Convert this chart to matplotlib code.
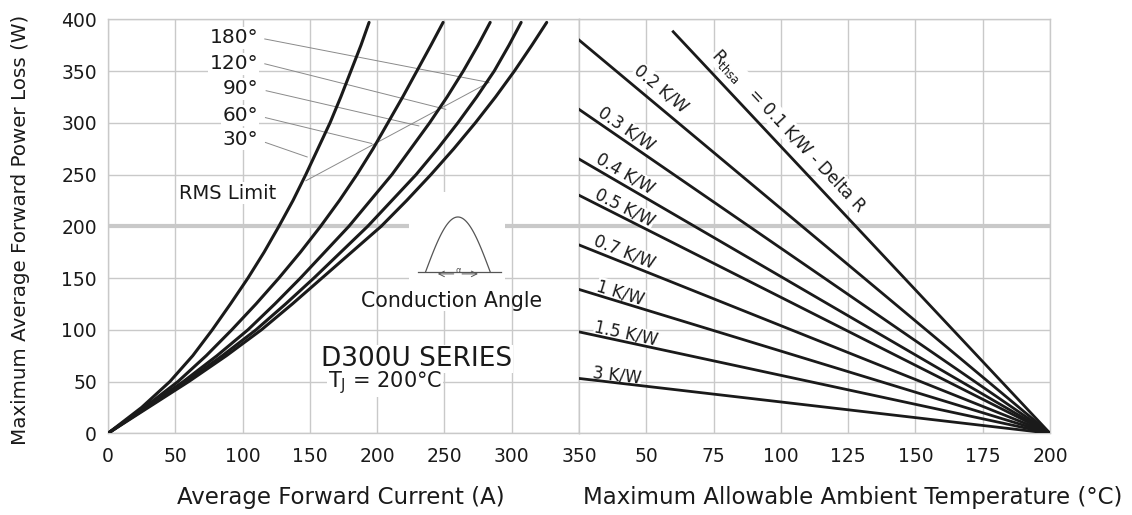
import numpy as np
import matplotlib
matplotlib.use('Agg')
import matplotlib.pyplot as plt
from matplotlib.patches import Rectangle

# ---- left panel: power loss vs. average forward current ----
angle_labels = ['30°', '60°', '90°', '120°', '180°']
power_w = [0, 25, 50, 75, 100, 125, 150, 175, 200, 225, 250, 275, 300,
           325, 350, 375, 397]
current_30 = [0, 25, 46, 63, 77.5, 91, 104, 116, 127, 137.5, 147, 156, 165,
              173, 180.5, 188, 194]
current_60 = [0, 27, 52, 73, 92, 110, 127, 143, 158, 172, 185, 197, 208,
              219, 229.5, 240, 249]
current_90 = [0, 28, 56, 81, 104, 124, 143, 161, 179, 195, 211, 225, 239,
              252, 264, 275, 284]
current_120 = [0, 29, 58, 85, 110, 132, 153, 173, 193, 211, 229, 245, 260,
               274, 287, 298, 307]
current_180 = [0, 30, 60, 88, 114, 137, 159, 181, 203, 222, 240, 257, 273,
               288, 302, 315, 326]

# leader lines from angle labels: (I0, P0, I1, P1)
leader_180 = [116.5, 381, 283, 339]
leader_120 = [116.5, 357, 251, 313]
leader_90 = [117.5, 331, 231, 297]
leader_60 = [117, 305, 196, 280]
leader_30 = [117, 281, 148, 267]
leader_rms = [147, 244, 283, 339]

# ---- right panel: power loss vs. ambient temperature ----
rth_labels = ['0.2 K/W', '0.3 K/W', '0.4 K/W', '0.5 K/W',
              '0.7 K/W', '1 K/W', '1.5 K/W', '3 K/W']
rth_start_temp = [25, 25, 25, 25, 25, 25, 25, 25]
rth_start_power = [380, 313, 265, 230, 182, 139, 98, 53]
rth_end_temp = 200
rth_label_temp = [55.5, 42.5, 42, 42, 42, 40.5, 42.5, 39]
rth_label_power = [333, 294, 251, 218, 175, 136, 96, 56]

delta_start = [60, 388]
delta_label = [103, 292]

left_ticks = [0, 50, 100, 150, 200, 250, 300, 350]
right_ticks = [50, 75, 100, 125, 150, 175, 200]
y_ticks = [0, 50, 100, 150, 200, 250, 300, 350, 400]

plt.rcParams['font.family'] = ['DejaVu Sans']
GRID = '#c9c9c9'
INK = '#1a1a1a'

fig = plt.figure(figsize=(11.32, 5.15), dpi=100)
ax1 = fig.add_axes([108 / 1132, 1 - 433.3 / 515, 471 / 1132, 414 / 515])
ax2 = fig.add_axes([579 / 1132, 1 - 433.3 / 515, 471 / 1132, 414 / 515])

for ax in (ax1, ax2):
    ax.set_ylim(0, 400)
    ax.set_yticks(y_ticks)
    ax.grid(True, color=GRID, lw=1.0, zorder=0)
    ax.axhline(200, color=GRID, lw=3, zorder=0.5)
    ax.tick_params(length=0, labelsize=13.5, colors=INK)
    for s in ax.spines.values():
        s.set_color(GRID)
        s.set_linewidth(1.0)
    ax.set_axisbelow(True)

ax1.set_xlim(0, 350)
ax1.set_xticks(left_ticks)
ax1.tick_params(axis='y', pad=8)
ax1.tick_params(axis='x', pad=10)
ax2.set_xlim(25, 200)
ax2.set_xticks(right_ticks)
ax2.tick_params(axis='x', pad=10)
ax2.tick_params(axis='y', labelleft=False)

# curves
for cur in (current_30, current_60, current_90, current_120, current_180):
    ax1.plot(cur, power_w, color=INK, lw=2.2, zorder=4,
             solid_capstyle='round', solid_joinstyle='round')

lbl_box = dict(facecolor='white', edgecolor='none', pad=1.0)
label_power = [284, 307, 333, 357, 382]
for lab, p in zip(angle_labels, label_power):
    ax1.text(111.5, p, lab, ha='right', va='center', fontsize=14.5,
             color=INK, bbox=lbl_box, zorder=2)
for ld in (leader_180, leader_120, leader_90, leader_60, leader_30, leader_rms):
    ax1.plot([ld[0], ld[2]], [ld[1], ld[3]], color='#8a8a8a', lw=0.7, zorder=3)
ax1.text(89, 232, 'RMS Limit', ha='center', va='center', fontsize=14,
         color=INK, bbox=lbl_box, zorder=2)

# conduction angle icon
ax1.add_patch(Rectangle((224, 118), 71, 115, facecolor='white',
                        edgecolor='none', zorder=1))
t = np.linspace(0, np.pi, 60)
ax1.plot(236 + 48 * t / np.pi, 156 + 53 * np.sin(t), color='#555555', lw=0.9, zorder=3)
ax1.plot([230, 292], [156, 156], color='#555555', lw=0.9, zorder=3)
ax1.annotate('', xy=(243, 154), xytext=(259, 154),
             arrowprops=dict(arrowstyle='->', color='#555555', lw=0.7), zorder=3)
ax1.annotate('', xy=(277, 154), xytext=(261, 154),
             arrowprops=dict(arrowstyle='->', color='#555555', lw=0.7), zorder=3)
ax1.text(260, 157, 'α', ha='center', va='center', fontsize=6, color='#555555', zorder=3)
ax1.text(255, 128, 'Conduction Angle', ha='center', va='center', fontsize=14.8,
         color=INK, zorder=3)

ax1.text(158, 72, 'D300U SERIES', ha='left', va='center', fontsize=19,
         color=INK, bbox=dict(facecolor='white', edgecolor='none', pad=0.5), zorder=2)
ax1.text(163.5, 49, r'T$_\mathregular{J}$ = 200°C', ha='left', va='center', fontsize=15,
         color=INK, bbox=dict(facecolor='white', edgecolor='none', pad=0.5), zorder=2)

# right panel lines
for lab, t0, p0, tx, py in zip(rth_labels, rth_start_temp, rth_start_power,
                               rth_label_temp, rth_label_power):
    ax2.plot([t0, rth_end_temp], [p0, 0], color=INK, lw=2.0, zorder=4)
    ang = np.degrees(np.arctan2(-p0, rth_end_temp - t0))
    ax2.text(tx, py, lab, rotation=ang, rotation_mode='anchor',
             transform_rotates_text=True, ha='center', va='center',
             fontsize=12, color=INK, bbox=dict(facecolor='white', edgecolor='none', pad=0.3),
             zorder=2)

ax2.plot([delta_start[0], rth_end_temp], [delta_start[1], 0], color=INK, lw=2.0, zorder=4)
ang = np.degrees(np.arctan2(-delta_start[1], rth_end_temp - delta_start[0]))
ax2.text(delta_label[0], delta_label[1], r'R$_\mathregular{thsa}$   = 0.1 K/W - Delta R',
         rotation=ang, rotation_mode='anchor', transform_rotates_text=True,
         ha='center', va='center', fontsize=12, color=INK,
         bbox=dict(facecolor='white', edgecolor='none', pad=0.3), zorder=2)

ax1.set_xlabel('Average Forward Current (A)', fontsize=16.5, color=INK)
ax1.xaxis.set_label_coords((341 - 108) / 471, -(486 - 433.3) / 414)
ax2.set_xlabel('Maximum Allowable Ambient Temperature (°C)', fontsize=16.5, color=INK)
ax2.xaxis.set_label_coords((853 - 579) / 471, -(486 - 433.3) / 414)
ax1.set_ylabel('Maximum Average Forward Power Loss (W)', fontsize=14.3, color=INK)
ax1.yaxis.set_label_coords(-(108 - 30) / 471, (433.3 - 230) / 414)

fig.savefig('out.png', dpi=100)
